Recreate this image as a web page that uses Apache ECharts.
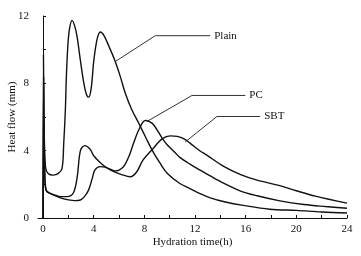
<!DOCTYPE html>
<html>
<head>
<meta charset="utf-8">
<script src="https://cdn.jsdelivr.net/npm/echarts@6/dist/echarts.min.js"></script>
<style>
  html, body { margin: 0; padding: 0; background: #fff; }
  #chart { width: 361px; height: 256px; }
</style>
</head>
<body>
<div id="chart"></div>
<script>
// hydration time (h), heat flow (mm)
var plainData = [
  [0, 0], [0.03, 9.7], [0.1, 4.6], [0.2, 3.0], [0.4, 2.65], [0.8, 2.55], [1.2, 2.65],
  [1.5, 2.95], [1.63, 4.4], [1.76, 6.4], [1.84, 8.4], [1.97, 10.4], [2.1, 11.3],
  [2.29, 11.74], [2.5, 11.4], [2.68, 10.8], [2.94, 9.4], [3.2, 8.1], [3.4, 7.4],
  [3.6, 7.18], [3.8, 7.7], [4.0, 9.3], [4.26, 10.6], [4.52, 11.05], [4.8, 10.85],
  [5.2, 10.2], [5.7, 9.3], [6.1, 8.4], [6.5, 7.4], [7.0, 6.45], [7.55, 5.64],
  [8.1, 4.8], [8.6, 4.05], [9.2, 3.3], [9.8, 2.66], [10.8, 2.05], [11.6, 1.75],
  [12.4, 1.45], [13.2, 1.2], [14.4, 0.95], [15.8, 0.75], [17.9, 0.52], [20, 0.45],
  [22, 0.36], [24, 0.3]
];
var pcData = [
  [0, 0], [0.05, 8.4], [0.12, 3.0], [0.25, 1.65], [0.6, 1.45], [1.37, 1.2], [2.0, 1.08],
  [2.5, 1.03], [2.95, 1.07], [3.3, 1.3], [3.6, 1.67], [3.9, 2.4], [4.1, 2.86],
  [4.5, 3.05], [4.9, 3.02], [5.3, 2.9], [5.7, 2.8], [6.0, 2.85], [6.36, 3.05],
  [6.8, 3.7], [7.15, 4.45], [7.6, 5.3], [8.07, 5.79], [8.4, 5.72], [8.73, 5.54],
  [9.4, 4.75], [9.8, 4.35], [10.4, 3.9], [10.8, 3.6], [11.6, 3.2], [12.4, 2.85],
  [13.2, 2.5], [14.3, 2.05], [15.6, 1.6], [16.9, 1.32], [18.7, 1.02], [20.6, 0.8],
  [22.3, 0.68], [24, 0.58]
];
var sbtData = [
  [0, 0], [0.08, 5.8], [0.15, 2.2], [0.25, 1.62], [0.6, 1.45], [1.0, 1.35], [1.37, 1.27],
  [1.9, 1.27], [2.4, 1.5], [2.7, 2.46], [2.95, 4.0], [3.3, 4.3], [3.7, 4.1], [4.0, 3.7],
  [4.5, 3.3], [5.0, 3.0], [5.5, 2.78], [6.2, 2.58], [6.9, 2.45], [7.4, 2.75],
  [7.9, 3.45], [8.6, 4.05], [9.4, 4.7], [10.05, 4.88], [10.6, 4.85], [11.1, 4.72],
  [11.6, 4.45], [12.4, 3.98], [12.9, 3.75], [14.3, 3.05], [15.6, 2.58], [16.9, 2.25],
  [18.7, 1.92], [20, 1.62], [21.5, 1.3], [24, 0.88]
];

// leader lines for the curve labels
var plainLeader = [[5.71, 9.3], [8.86, 10.83], [13.2, 10.83]];
var pcLeader = [[8.2, 5.73], [11.76, 7.28], [15.97, 7.28]];
var sbtLeader = [[11.23, 4.52], [13.73, 6.03], [17.15, 6.03]];

var xTicks = [0, 2, 4, 6, 8, 10, 12, 14, 16, 18, 20, 22, 24];
var xLabels = [0, 4, 8, 12, 16, 20, 24];
var yTicks = [0, 2, 4, 6, 8, 10, 12];
var yLabels = [0, 4, 8, 12];

var font = 'Liberation Serif';
var ink = '#111';

function curve(data) {
  return {
    type: 'line',
    data: data,
    smooth: 0.35,
    symbol: 'none',
    lineStyle: { color: ink, width: 1.4 },
    silent: true
  };
}

function leader(data, text) {
  return {
    type: 'line',
    data: data,
    symbol: 'none',
    lineStyle: { color: '#333', width: 1 },
    endLabel: {
      show: true,
      formatter: text,
      distance: 4,
      fontFamily: font,
      fontSize: 11,
      color: ink
    },
    silent: true
  };
}

var myChart = echarts.init(document.getElementById('chart'));
var option = {
  animation: false,
  backgroundColor: '#fff',
  grid: { left: 38, right: 14, top: 16, bottom: 38, outerBoundsMode: 'none' },
  xAxis: {
    type: 'value',
    min: -0.4,
    max: 24,
    name: 'Hydration time(h)',
    nameLocation: 'middle',
    nameGap: 19,
    nameMoveOverlap: false,
    nameTextStyle: { fontFamily: font, fontSize: 11, color: ink },
    axisLine: { lineStyle: { color: ink, width: 1 } },
    axisTick: { inside: true, length: 3, customValues: xTicks, lineStyle: { color: ink } },
    axisLabel: { customValues: xLabels, margin: 6, fontFamily: font, fontSize: 11, color: ink },
    splitLine: { show: false }
  },
  yAxis: {
    type: 'value',
    min: 0,
    max: 12,
    name: 'Heat flow (mm)',
    nameLocation: 'middle',
    nameGap: 20,
    nameMoveOverlap: false,
    nameTextStyle: { fontFamily: font, fontSize: 11, color: ink },
    axisLine: { show: true, lineStyle: { color: ink, width: 1 } },
    axisTick: { show: true, inside: true, length: 3, customValues: yTicks, lineStyle: { color: ink } },
    axisLabel: { customValues: yLabels, margin: 9, fontFamily: font, fontSize: 11, color: ink },
    splitLine: { show: false }
  },
  series: [
    curve(plainData),
    curve(pcData),
    curve(sbtData),
    leader(plainLeader, 'Plain'),
    leader(pcLeader, 'PC'),
    leader(sbtLeader, 'SBT')
  ]
};
myChart.setOption(option);
</script>
</body>
</html>
